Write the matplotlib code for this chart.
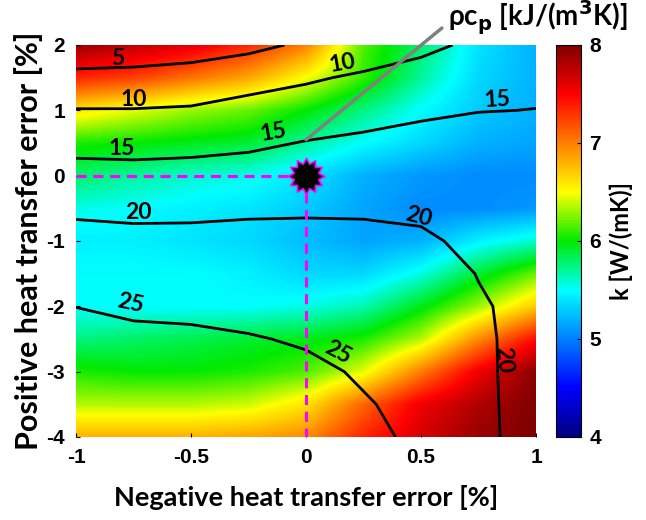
import matplotlib
matplotlib.use('Agg')
import matplotlib.pyplot as plt
import numpy as np
from matplotlib.colors import LinearSegmentedColormap
from matplotlib.path import Path

# grid
x_err = [-1, -0.75, -0.5, -0.25, 0, 0.25, 0.5, 0.75, 1]
y_err = [2, 1.5, 1, 0.5, 0, -0.5, -1, -1.5, -2, -2.5, -3, -3.5, -4]

# thermal conductivity k [W/(mK)], rows follow y_err
k_vals = [
    [7.9, 7.75, 7.6, 7.35, 7.0, 6.15, 5.8, 5.4, 5.2],
    [7.35, 7.25, 7.05, 6.85, 6.5, 6.1, 5.7, 5.35, 5.2],
    [6.6, 6.45, 6.3, 6.2, 6.0, 5.75, 5.5, 5.3, 5.2],
    [6.05, 6.0, 5.95, 5.9, 5.7, 5.5, 5.35, 5.2, 5.15],
    [5.8, 5.7, 5.6, 5.55, 5.4, 5.2, 5.1, 5.05, 5.05],
    [5.55, 5.5, 5.45, 5.4, 5.3, 5.15, 5.05, 5.05, 5.1],
    [5.45, 5.45, 5.4, 5.35, 5.25, 5.15, 5.2, 5.45, 5.6],
    [5.5, 5.5, 5.5, 5.45, 5.35, 5.35, 5.55, 5.9, 6.2],
    [5.5, 5.5, 5.5, 5.5, 5.55, 5.65, 5.95, 6.3, 6.7],
    [5.75, 5.8, 5.85, 5.9, 5.95, 6.05, 6.35, 6.95, 7.45],
    [6.05, 6.0, 6.0, 6.05, 6.15, 6.45, 7.0, 7.55, 7.95],
    [6.35, 6.35, 6.35, 6.4, 6.6, 7.1, 7.55, 7.8, 8.0],
    [6.8, 6.8, 6.8, 6.85, 6.95, 7.35, 7.65, 7.9, 8.0],
]

# volumetric heat capacity rho*cp [kJ/(m3K)], rows follow y_err
rho_cp = [
    [2.0, 2.5, 3.0, 4.0, 5.6, 7.0, 8.9, 10.9, 12.5],
    [6.1, 6.2, 6.7, 7.7, 9.4, 10.7, 11.8, 13.4, 14.2],
    [10.2, 10.2, 10.5, 12.0, 12.4, 13.4, 14.3, 14.9, 15.05],
    [13.6, 13.5, 13.8, 14.2, 15.2, 15.8, 16.4, 16.6, 16.5],
    [16.6, 16.4, 16.5, 17.0, 17.6, 18.0, 18.3, 18.0, 17.5],
    [19.3, 19.3, 19.2, 19.4, 19.5, 19.5, 19.5, 18.9, 18.2],
    [21.35, 20.8, 21.0, 21.2, 21.2, 21.0, 20.4, 19.4, 18.6],
    [23.2, 22.4, 22.5, 22.6, 22.6, 22.2, 21.5, 19.9, 18.9],
    [24.95, 24.2, 24.0, 24.0, 23.8, 23.2, 22.4, 20.3, 19.1],
    [26.5, 26.0, 25.8, 25.2, 24.7, 24.0, 23.2, 20.45, 19.05],
    [28.0, 27.5, 27.0, 26.5, 25.6, 24.7, 23.8, 20.5, 19.0],
    [29.0, 28.5, 28.0, 27.3, 26.0, 25.2, 24.3, 20.55, 19.0],
    [30.0, 29.5, 29.0, 28.0, 26.3, 25.5, 24.6, 20.6, 19.0],
]

levels = [5, 10, 15, 20, 25]
# contour labels: text, x, y, rotation
contour_labels = [
    ('5', -0.82, 1.80, 0),
    ('10', -0.75, 1.16, 0),
    ('15', -0.80, 0.42, 0),
    ('15', -0.14, 0.66, 10),
    ('10', 0.16, 1.72, 10),
    ('15', 0.83, 1.16, 3),
    ('20', -0.73, -0.56, 0),
    ('20', 0.49, -0.63, -14),
    ('20', 0.86, -2.82, -86),
    ('25', -0.765, -1.95, -12),
    ('25', 0.14, -2.70, -28),
]

nominal_x, nominal_y = 0, 0
pointer_xy = (0.0, 0.55)

cmap = LinearSegmentedColormap.from_list('kjet', [
    (0.0, (0, 0, 0.5)), (0.125, (0, 0, 1)), (0.375, (0, 1, 1)),
    (0.5, (0, 0.92, 0)), (0.625, (1, 1, 0)), (0.875, (1, 0, 0)),
    (1.0, (0.5, 0, 0))])

tickfont = dict(family='Liberation Sans', weight='bold', size=15)
labfont = dict(family=['Lato', 'DejaVu Sans'], weight='bold', size=19.5)

fig = plt.figure(figsize=(6.46, 5.2), dpi=100)
ax = fig.add_axes([76/646, 83/520, 460/646, 392/520])

dx = x_err[1] - x_err[0]
dy = y_err[0] - y_err[1]
im = ax.imshow(np.array(k_vals), cmap=cmap, vmin=4, vmax=8, origin='upper',
               extent=(x_err[0] - dx/2, x_err[-1] + dx/2, y_err[-1] - dy/2, y_err[0] + dy/2),
               interpolation='bilinear', interpolation_stage='data', aspect='auto')

X, Y = np.meshgrid(x_err, y_err)
ax.contour(X, Y, np.array(rho_cp), levels=levels, colors='k', linewidths=2)
for txt, lx, ly, rot in contour_labels:
    ax.text(lx, ly, txt, ha='center', va='center', rotation=rot,
            family=['Lato', 'DejaVu Sans'], weight='bold', fontsize=16.5)

ax.plot([x_err[0], nominal_x], [nominal_y, nominal_y], color='#ff00ff', lw=2.2, dashes=(3.3, 2.2))
ax.plot([nominal_x, nominal_x], [nominal_y, y_err[-1]], color='#ff00ff', lw=2.2, dashes=(3.3, 2.2))
star = Path.unit_regular_star(12, 0.7)
ax.plot(nominal_x, nominal_y, marker=star, ms=26, mfc='k', mec='#ff00ff', mew=1.2)

ax.annotate('', xy=pointer_xy, xytext=(0.684, 0.946), textcoords='figure fraction',
            arrowprops=dict(arrowstyle='-', color='#808080', lw=2.5, shrinkA=0, shrinkB=0))
fig.text(0.693, 0.965, r'ρc$_\mathbf{p}$ [kJ/(m$^\mathbf{3}$K)]', ha='left', va='center',
         family=['Lato', 'DejaVu Sans'], weight='bold', size=20)

ax.set_xlim(-1, 1)
ax.set_ylim(-4, 2)
ax.set_xticks([-1, -0.5, 0, 0.5, 1])
ax.set_xticklabels(['-1', '-0.5', '0', '0.5', '1'], **tickfont)
ax.set_yticks([-4, -3, -2, -1, 0, 1, 2])
ax.set_yticklabels(['-4', '-3', '-2', '-1', '0', '1', '2'], **tickfont)
ax.tick_params(direction='in', length=3, pad=8)
for s in ax.spines.values():
    s.set_visible(False)
ax.set_xlabel('Negative heat transfer error [%]', labelpad=13, **labfont)
ax.set_ylabel('Positive heat transfer error [%]', labelpad=2,
              family=['Lato', 'DejaVu Sans'], weight='bold', size=22)

cax = fig.add_axes([556/646, 83/520, 25/646, 392/520])
cb = fig.colorbar(im, cax=cax, ticks=[4, 5, 6, 7, 8])
cb.ax.set_yticklabels(['4', '5', '6', '7', '8'], **tickfont)
cb.ax.tick_params(direction='in', length=3, pad=6)
cb.outline.set_linewidth(0.8)
cb.set_label('k [W/(mK)]', labelpad=6, family=['Lato', 'DejaVu Sans'], weight='bold', size=17)

fig.savefig('out.png', dpi=100)
